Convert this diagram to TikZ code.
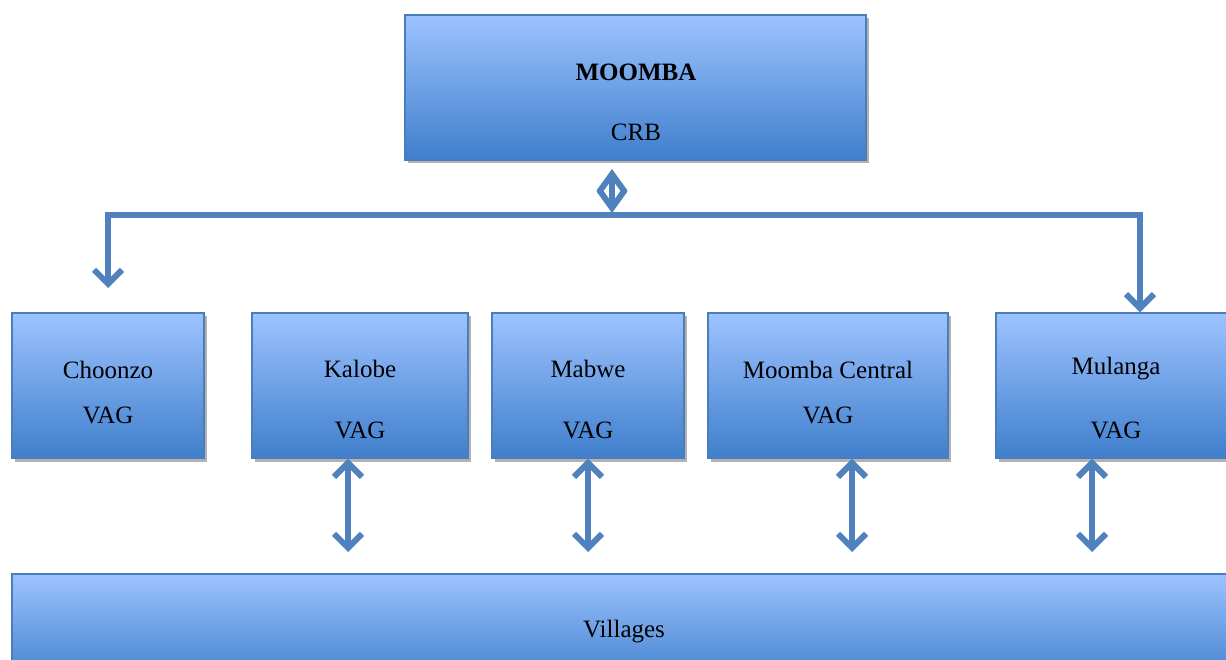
\documentclass[tikz,border=0pt]{standalone}
\usepackage{fontspec}
\setmainfont{Liberation Serif}
\usetikzlibrary{arrows.meta,shadows,calc}
\definecolor{boxtop}{HTML}{9DC3FF}
\definecolor{boxbot}{HTML}{3F7FCC}
\definecolor{boxline}{HTML}{4A7EBB}
\definecolor{arrowcol}{HTML}{4F81BD}
\begin{document}
\begin{tikzpicture}[x=1pt,y=-1pt,
  box/.style={rectangle, draw=boxline, line width=1.2pt, top color=boxtop, bottom color=boxbot,
    drop shadow={shadow xshift=3pt, shadow yshift=-3.5pt, fill=black, opacity=0.3}, inner sep=0pt},
  lbl/.style={font=\fontsize{25}{29}\selectfont, inner sep=0pt},
  conn/.style={draw=arrowcol, line width=6pt},
  dbl/.style={conn, {Straight Barb[length=14pt,width=28pt]}-{Straight Barb[length=14pt,width=28pt]}},
  one/.style={conn, -{Straight Barb[length=14pt,width=28pt]}}
]
\useasboundingbox (0,0) rectangle (1226,660);
% boxes
\node[box, minimum width=461pt, minimum height=145pt] (moomba) at (635.5,87.5) {};
\node[box, minimum width=192pt, minimum height=145pt] (choonzo) at (108,385.5) {};
\node[box, minimum width=216pt, minimum height=145pt] (kalobe) at (360,385.5) {};
\node[box, minimum width=192pt, minimum height=145pt] (mabwe) at (588,385.5) {};
\node[box, minimum width=240pt, minimum height=145pt] (central) at (828,385.5) {};
\node[box, minimum width=240pt, minimum height=145pt] (mulanga) at (1116,385.5) {};
\node[box, minimum width=1240pt, minimum height=110pt] (villages) at (632,629) {};
% labels
\node[lbl, font=\fontsize{25}{29}\selectfont\bfseries] (moomba-t) at (636,72) {MOOMBA};
\node[lbl] (crb-t) at (636,132) {CRB};
\node[lbl] (choonzo-t) at (108,370) {Choonzo};
\node[lbl] (choonzo-v) at (108,415) {VAG};
\node[lbl] (kalobe-t) at (360,369) {Kalobe};
\node[lbl] (kalobe-v) at (360,430) {VAG};
\node[lbl] (mabwe-t) at (588,369) {Mabwe};
\node[lbl] (mabwe-v) at (588,430) {VAG};
\node[lbl] (central-t) at (828,370) {Moomba Central};
\node[lbl] (central-v) at (828,415) {VAG};
\node[lbl] (mulanga-t) at (1116,369) {Mulanga};
\node[lbl] (mulanga-v) at (1116,430) {VAG};
\node[lbl] (villages-t) at (624,632) {Villages};
% connector coordinates
\coordinate (topA) at (612,169);
\coordinate (topB) at (612,213);
\coordinate (hl) at (108,215);
\coordinate (hr) at (1140,215);
\coordinate (leftend) at (108,288);
\coordinate (v1) at (348,552);
\coordinate (v2) at (588,552);
\coordinate (v3) at (852,552);
\coordinate (v4) at (1092,552);
% top connectors
\draw[conn, {Straight Barb[length=18pt,width=26pt]}-{Straight Barb[length=18pt,width=26pt]}] (topA) -- (topB);
\draw[conn, line cap=rect] (hl) -- (hr);
\draw[one] (hl) -- (leftend);
\draw[one] (hr) -- (hr |- mulanga.north);
% lower connectors
\draw[dbl] (v1 |- kalobe.south) -- (v1);
\draw[dbl] (v2 |- mabwe.south) -- (v2);
\draw[dbl] (v3 |- central.south) -- (v3);
\draw[dbl] (v4 |- mulanga.south) -- (v4);
\end{tikzpicture}
\end{document}
